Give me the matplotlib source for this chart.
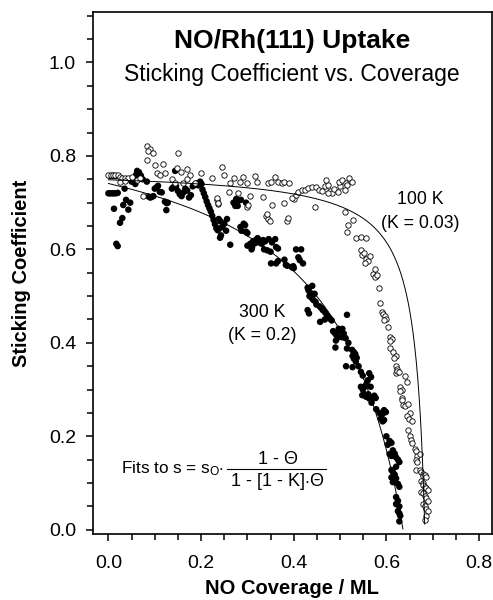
import matplotlib as mpl
mpl.use('Agg')
import matplotlib.pyplot as plt
import numpy as np
from matplotlib.ticker import MultipleLocator, FormatStrFormatter

##########################
# 100 K uptake (open circles), coverage / ML and sticking coefficient
x_100 = [0.000, 0.005, 0.010, 0.015, 0.020, 0.025, 0.030, 0.036, 0.042, 0.050,
         0.025, 0.035, 0.084, 0.090, 0.086, 0.096, 0.083, 0.150,
         0.100, 0.118, 0.148, 0.157, 0.170, 0.176, 0.200, 0.224,
         0.105, 0.112, 0.122, 0.137, 0.144, 0.161, 0.170, 0.187,
         0.075, 0.062, 0.068, 0.234, 0.237,
         0.245, 0.250, 0.270, 0.290, 0.317, 0.360,
         0.262, 0.285, 0.300, 0.320, 0.345, 0.352, 0.365, 0.375, 0.380, 0.390,
         0.260, 0.280, 0.306, 0.334, 0.235, 0.236, 0.300, 0.302, 0.353,
         0.340, 0.345, 0.348, 0.342, 0.385, 0.387, 0.380, 0.400,
         0.397, 0.405, 0.410, 0.418, 0.425, 0.430, 0.440, 0.448, 0.455, 0.462,
         0.468, 0.475, 0.478, 0.482, 0.486, 0.470, 0.474, 0.446,
         0.495, 0.500, 0.498, 0.505, 0.512, 0.515, 0.520, 0.525, 0.510,
         0.510, 0.528, 0.518, 0.515, 0.535, 0.545, 0.555,
         0.545, 0.548, 0.552, 0.555, 0.560, 0.565, 0.553, 0.572, 0.576, 0.578,
         0.575, 0.580, 0.585, 0.587, 0.590, 0.593, 0.597, 0.600, 0.594, 0.604,
         0.608, 0.612, 0.608, 0.608, 0.615, 0.620, 0.616,
         0.620, 0.624, 0.620, 0.624, 0.628, 0.640, 0.645, 0.630, 0.634, 0.634,
         0.630, 0.634, 0.636, 0.640, 0.646, 0.650, 0.645, 0.648, 0.655, 0.647,
         0.650, 0.654, 0.656, 0.662, 0.664, 0.667, 0.664, 0.667, 0.672,
         0.665, 0.672, 0.675, 0.678, 0.680, 0.683, 0.686, 0.675, 0.678, 0.680,
         0.683, 0.686, 0.690, 0.675, 0.680, 0.683, 0.686, 0.690, 0.680, 0.683,
         0.686, 0.690, 0.686, 0.683]
s_100 = [0.760, 0.760, 0.760, 0.760, 0.759, 0.755, 0.753, 0.753, 0.752, 0.755,
         0.745, 0.747, 0.822, 0.815, 0.810, 0.806, 0.792, 0.806,
         0.780, 0.782, 0.775, 0.766, 0.773, 0.760, 0.764, 0.753,
         0.763, 0.760, 0.763, 0.750, 0.743, 0.743, 0.751, 0.743,
         0.715, 0.748, 0.752, 0.706, 0.698,
         0.777, 0.760, 0.753, 0.755, 0.757, 0.755,
         0.742, 0.745, 0.742, 0.744, 0.743, 0.745, 0.744, 0.742, 0.744, 0.743,
         0.723, 0.720, 0.715, 0.713, 0.710, 0.700, 0.690, 0.696, 0.695,
         0.672, 0.664, 0.660, 0.676, 0.660, 0.667, 0.700, 0.707,
         0.710, 0.716, 0.722, 0.728, 0.727, 0.731, 0.734, 0.733, 0.728, 0.724,
         0.736, 0.738, 0.726, 0.720, 0.729, 0.748, 0.720, 0.690,
         0.722, 0.735, 0.745, 0.748, 0.742, 0.738, 0.752, 0.744, 0.728,
         0.680, 0.663, 0.653, 0.638, 0.625, 0.627, 0.625,
         0.598, 0.588, 0.592, 0.580, 0.575, 0.585, 0.570, 0.548, 0.558, 0.543,
         0.540, 0.545, 0.518, 0.486, 0.467, 0.462, 0.458, 0.452, 0.448, 0.434,
         0.412, 0.408, 0.404, 0.390, 0.380, 0.372, 0.368,
         0.350, 0.345, 0.336, 0.340, 0.338, 0.330, 0.316, 0.306, 0.300, 0.283,
         0.296, 0.278, 0.268, 0.265, 0.270, 0.250, 0.244, 0.237, 0.232, 0.214,
         0.200, 0.192, 0.186, 0.172, 0.168, 0.158, 0.150, 0.146, 0.162,
         0.128, 0.128, 0.124, 0.120, 0.116, 0.118, 0.114, 0.105, 0.100, 0.095,
         0.092, 0.090, 0.085, 0.080, 0.078, 0.072, 0.068, 0.062, 0.055, 0.050,
         0.045, 0.040, 0.030, 0.020]

# 300 K uptake (filled circles)
x_300 = [0.000, 0.004, 0.008, 0.012, 0.016, 0.020, 0.004, 0.010, 0.016,
         0.012, 0.025, 0.030, 0.017, 0.020, 0.035, 0.032, 0.038, 0.047, 0.043,
         0.050, 0.055, 0.060, 0.062, 0.066, 0.070, 0.074, 0.058, 0.083,
         0.087, 0.090, 0.093, 0.097, 0.100, 0.104, 0.107, 0.111, 0.115,
         0.122, 0.126, 0.128, 0.125, 0.137, 0.140, 0.144, 0.146, 0.150, 0.154,
         0.158, 0.162, 0.166, 0.170, 0.174, 0.178, 0.182, 0.186, 0.190, 0.194,
         0.198, 0.201,
         0.203, 0.206, 0.209, 0.212, 0.215, 0.218, 0.221, 0.224, 0.227, 0.230,
         0.233, 0.236,
         0.238, 0.242, 0.240, 0.246, 0.243, 0.241, 0.250, 0.256, 0.254,
         0.270, 0.273, 0.276, 0.279, 0.274, 0.279, 0.286, 0.297,
         0.285, 0.287, 0.292, 0.295, 0.297, 0.300, 0.263,
         0.300, 0.306, 0.310, 0.312, 0.316, 0.318, 0.322, 0.325, 0.328, 0.331,
         0.334, 0.338, 0.346, 0.309,
         0.336, 0.343, 0.350, 0.353, 0.360, 0.362, 0.366,
         0.351, 0.362, 0.366, 0.380, 0.383, 0.386, 0.396, 0.399, 0.405, 0.416,
         0.410, 0.413, 0.420, 0.400,
         0.430, 0.432, 0.440, 0.434, 0.436, 0.439, 0.442, 0.445, 0.447, 0.449,
         0.456, 0.460, 0.463, 0.468, 0.472, 0.474, 0.478, 0.482, 0.430, 0.433,
         0.457, 0.467, 0.485, 0.488, 0.491, 0.494, 0.497, 0.491, 0.497, 0.500,
         0.490,
         0.515, 0.505, 0.508, 0.505, 0.512, 0.518, 0.515, 0.526, 0.530, 0.533,
         0.536, 0.534, 0.530, 0.527, 0.513, 0.527, 0.540,
         0.545, 0.549, 0.563, 0.567, 0.560, 0.557, 0.553, 0.545, 0.549, 0.553,
         0.557, 0.566, 0.573, 0.577,
         0.548, 0.556, 0.561, 0.568, 0.574, 0.568, 0.563,
         0.578, 0.585, 0.592, 0.595, 0.599, 0.588, 0.592, 0.595,
         0.600, 0.607, 0.611, 0.603, 0.614, 0.607, 0.611, 0.618, 0.621, 0.625,
         0.628, 0.621, 0.611, 0.614, 0.618, 0.611, 0.621, 0.614, 0.625, 0.628,
         0.621, 0.625, 0.621, 0.628, 0.625, 0.628, 0.630, 0.628]
s_300 = [0.720, 0.720, 0.720, 0.720, 0.720, 0.721, 0.757, 0.757, 0.757,
         0.687, 0.657, 0.667, 0.612, 0.607, 0.730, 0.695, 0.706, 0.700, 0.685,
         0.745, 0.752, 0.760, 0.768, 0.765, 0.758, 0.750, 0.740, 0.745,
         0.713, 0.711, 0.712, 0.714, 0.730, 0.733, 0.736, 0.723, 0.722,
         0.702, 0.699, 0.700, 0.684, 0.730, 0.733, 0.768, 0.735, 0.725, 0.718,
         0.714, 0.722, 0.730, 0.726, 0.711, 0.716, 0.735, 0.738, 0.741, 0.737,
         0.745, 0.740,
         0.728, 0.720, 0.712, 0.703, 0.695, 0.688, 0.681, 0.672, 0.663, 0.654,
         0.645, 0.641,
         0.665, 0.660, 0.645, 0.648, 0.630, 0.625, 0.655, 0.665, 0.640,
         0.700, 0.697, 0.708, 0.702, 0.693, 0.693, 0.706, 0.700,
         0.648, 0.640, 0.655, 0.652, 0.638, 0.635, 0.610,
         0.608, 0.612, 0.604, 0.617, 0.613, 0.620, 0.624, 0.615, 0.618, 0.612,
         0.620, 0.617, 0.622, 0.600,
         0.600, 0.598, 0.595, 0.615, 0.622, 0.605, 0.602,
         0.570, 0.570, 0.575, 0.578, 0.567, 0.565, 0.562, 0.564, 0.600, 0.600,
         0.583, 0.577, 0.570, 0.560,
         0.518, 0.512, 0.522, 0.500, 0.504, 0.496, 0.492, 0.505, 0.488, 0.482,
         0.478, 0.474, 0.470, 0.465, 0.458, 0.456, 0.452, 0.448, 0.470, 0.463,
         0.445, 0.450, 0.425, 0.422, 0.418, 0.415, 0.412, 0.405, 0.430, 0.426,
         0.390,
         0.460, 0.430, 0.420, 0.412, 0.410, 0.400, 0.388, 0.385, 0.380, 0.376,
         0.368, 0.360, 0.366, 0.372, 0.350, 0.348, 0.350,
         0.338, 0.330, 0.335, 0.327, 0.320, 0.312, 0.306, 0.306, 0.300, 0.290,
         0.285, 0.306, 0.285, 0.282,
         0.288, 0.285, 0.290, 0.278, 0.287, 0.272, 0.281,
         0.258, 0.250, 0.248, 0.256, 0.252, 0.238, 0.232, 0.235,
         0.200, 0.190, 0.186, 0.182, 0.170, 0.162, 0.158, 0.163, 0.155, 0.150,
         0.145, 0.135, 0.128, 0.124, 0.118, 0.112, 0.110, 0.102, 0.098, 0.092,
         0.070, 0.062, 0.055, 0.050, 0.040, 0.035, 0.030, 0.018]

# fit parameters: s = s0 * (1 - theta) / (1 - [1 - K] * theta), theta = cov / cov_sat
s0_100, K_100, sat_100 = 0.749, 0.03, 0.683
s0_300, K_300, sat_300 = 0.741, 0.2, 0.636

xticks = [0.0, 0.2, 0.4, 0.6, 0.8]
yticks = [0.0, 0.2, 0.4, 0.6, 0.8, 1.0]
##########################

plt.rcParams['font.family'] = ['Liberation Sans', 'DejaVu Sans']
plt.rcParams['mathtext.fontset'] = 'custom'
plt.rcParams['mathtext.rm'] = 'Liberation Sans'
plt.rcParams['mathtext.it'] = 'Liberation Sans'


def fit(cov, s0, K, sat):
    th = cov / sat
    return s0 * (1 - th) / (1 - (1 - K) * th)


fig = plt.figure(figsize=(4.93, 6.0), dpi=100)
ax = fig.add_axes([0.188, 0.11, 0.809, 0.87])

ax.scatter(x_300, s_300, s=22, color='k', edgecolors='none', zorder=3)
ax.scatter(x_100, s_100, s=15, facecolors='white', edgecolors='k', linewidths=0.6, zorder=4)

cov = np.linspace(0, sat_100 * 0.9995, 600)
ax.plot(cov, fit(cov, s0_100, K_100, sat_100), '-', color='k', linewidth=0.7, zorder=5)
cov = np.linspace(0, sat_300 * 0.9995, 600)
ax.plot(cov, fit(cov, s0_300, K_300, sat_300), '-', color='k', linewidth=0.7, zorder=5)

ax.set_xlim(-0.034, 0.827)
ax.set_ylim(-0.009, 1.108)
ax.set_xticks(xticks)
ax.set_yticks(yticks)
ax.xaxis.set_major_formatter(FormatStrFormatter('%.1f'))
ax.yaxis.set_major_formatter(FormatStrFormatter('%.1f'))
ax.xaxis.set_minor_locator(MultipleLocator(0.05))
ax.yaxis.set_minor_locator(MultipleLocator(0.05))
ax.tick_params(which='both', direction='out', width=1.1, labelsize=14, top=False, right=False)
ax.tick_params(which='major', length=5)
ax.tick_params(which='minor', length=4)
ax.tick_params(axis='y', which='major', pad=7)
ax.tick_params(axis='x', which='major', pad=10)
for sp in ax.spines.values():
    sp.set_linewidth(1.2)

ax.set_xlabel('NO Coverage / ML', fontsize=14.5, fontweight='bold', labelpad=5)
ax.set_ylabel('Sticking Coefficient', fontsize=14.5, fontweight='bold', labelpad=13)

ax.text(0.5, 0.945, 'NO/Rh(111) Uptake', transform=ax.transAxes, ha='center', va='center',
        fontsize=19, fontweight='bold')
ax.text(0.5, 0.881, 'Sticking Coefficient vs. Coverage', transform=ax.transAxes,
        ha='center', va='center', fontsize=16.5)

ax.text(0.673, 0.706, '100 K', ha='center', va='center', fontsize=12.7)
ax.text(0.673, 0.655, '(K = 0.03)', ha='center', va='center', fontsize=12.7)
ax.text(0.332, 0.466, '300 K', ha='center', va='center', fontsize=12.7)
ax.text(0.332, 0.415, '(K = 0.2)', ha='center', va='center', fontsize=12.7)

# fit formula
ax.text(0.028, 0.121, r'Fits to s = s$_{\mathrm{O}}$$\cdot$', ha='left', va='baseline', fontsize=12.3)
ax.text(0.365, 0.150, r'1 - $\Theta$', ha='center', va='center', fontsize=13)
ax.text(0.365, 0.103, r'1 - [1 - K]$\cdot\Theta$', ha='center', va='center', fontsize=13)
ax.plot([0.255, 0.470], [0.1305, 0.1305], color='k', linewidth=0.8)

plt.savefig('out.png', dpi=100)
